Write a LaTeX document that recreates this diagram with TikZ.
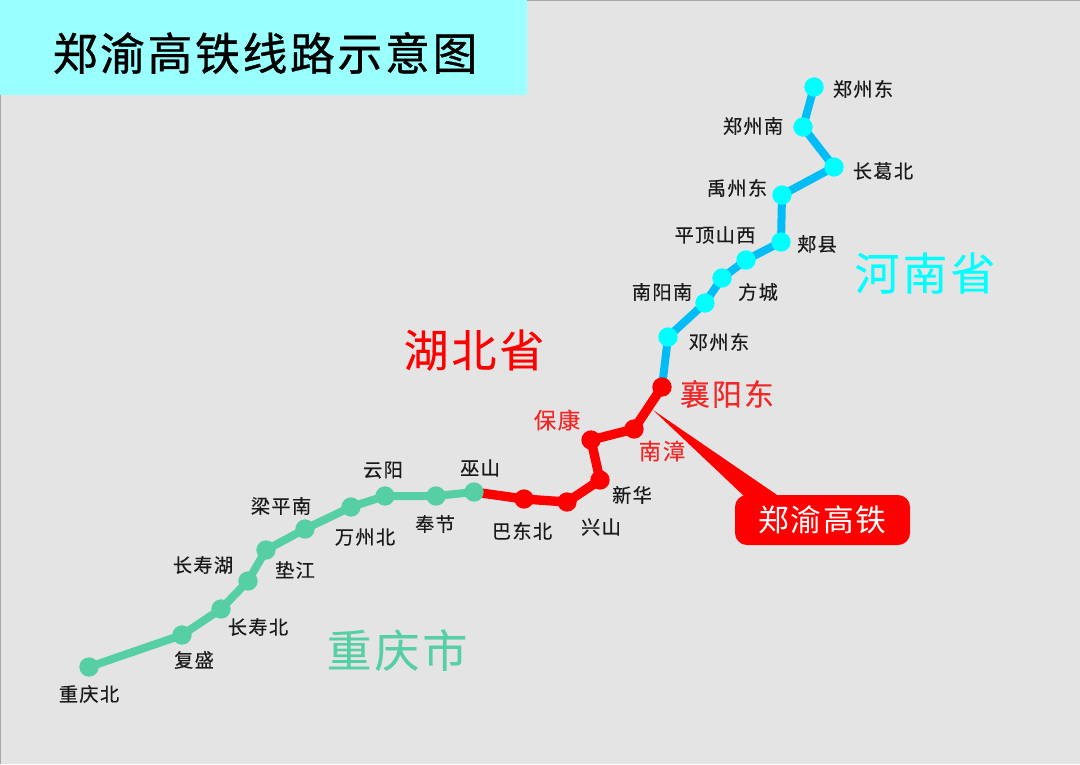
\documentclass[tikz,border=0pt]{standalone}
\usepackage{fontspec}
\usetikzlibrary{backgrounds}
\newfontfamily\cjk[LetterSpace=6]{Noto Sans CJK SC}
\newfontfamily\cjkm[LetterSpace=7,FakeBold=0.25]{Noto Sans CJK SC}
\newfontfamily\cjkb[LetterSpace=6,FakeBold=0.8]{Noto Sans CJK SC}
\definecolor{bgc}{HTML}{E4E4E4}
\definecolor{titlec}{HTML}{99FFFF}
\definecolor{bluel}{HTML}{00BEF5}
\definecolor{cyand}{HTML}{00FFFF}
\definecolor{redc}{HTML}{FF0000}
\definecolor{greenc}{HTML}{55CFA3}
\definecolor{labred}{HTML}{F02828}
\definecolor{labk}{HTML}{1A1A1A}
\tikzset{
  x=0.75pt,y=-0.75pt,
  stn/.style={circle,draw=none,minimum size=14.5pt,inner sep=0pt},
  cdot/.style={stn,fill=cyand},
  rdot/.style={stn,fill=redc},
  gdot/.style={stn,fill=greenc},
  bline/.style={draw=bluel,line width=6pt},
  rline/.style={draw=redc,line width=7pt,line join=round},
  gline/.style={draw=greenc,line width=6pt},
  lab/.style={inner sep=0pt,text=labk,font=\cjkm\fontsize{14.4pt}{16pt}\selectfont},
  rlab/.style={inner sep=0pt,text=labred,font=\cjkm\fontsize{16.8pt}{18pt}\selectfont},
  prov/.style={inner sep=0pt,font=\cjkm\fontsize{33.6pt}{36pt}\selectfont},
}
\begin{document}
\begin{tikzpicture}
\useasboundingbox (0,0) rectangle (1080,764);

% stations
\node[cdot] (s1) at (814,87) {};
\node[cdot] (s2) at (803,127) {};
\node[cdot] (s3) at (834,167) {};
\node[cdot] (s4) at (782,195) {};
\node[cdot] (s5) at (781,242) {};
\node[cdot] (s6) at (746,260) {};
\node[cdot] (s7) at (722,278) {};
\node[cdot] (s8) at (705,303) {};
\node[cdot] (s9) at (668,337) {};
\node[rdot] (s10) at (662,387) {};
\node[rdot] (s11) at (634,429) {};
\node[rdot] (s12) at (591,440) {};
\node[rdot] (s13) at (600,480) {};
\node[rdot] (s14) at (567,502) {};
\node[rdot] (s15) at (524,499) {};
\node[gdot] (s16) at (474,492) {};
\node[gdot] (s17) at (436,496) {};
\node[gdot] (s18) at (385,496) {};
\node[gdot] (s19) at (351,507) {};
\node[gdot] (s20) at (305,529) {};
\node[gdot] (s21) at (266,550) {};
\node[gdot] (s22) at (248,581) {};
\node[gdot] (s23) at (221,609) {};
\node[gdot] (s24) at (182,635) {};
\node[gdot] (s25) at (89,667) {};

% callout
\node[fill=redc,rounded corners=9pt,minimum width=131.25pt,minimum height=37.5pt,inner sep=0pt,text=white] (tag) at (822.5,520) {\cjk\fontsize{23pt}{26pt}\selectfont 郑渝高铁};
\coordinate (tip) at (653,410);
\coordinate (ta) at (745,497);
\coordinate (tb) at (780,497);

\begin{scope}[on background layer]
\fill[bgc] (0,0) rectangle (1080,764);
\draw[gray!70,line width=1pt] (0,764) -- (0,0) -- (1080,0);
\fill[titlec] (0,0) rectangle (527,95);
\fill[redc] (tip) -- (ta) -- (tb) -- cycle;
\draw[bline] (s1.center) -- (s2.center) -- (s3.center) -- (s4.center) -- (s5.center) -- (s6.center) -- (s7.center) -- (s8.center) -- (s9.center) -- (s10.center);
\draw[rline] (s10.center) -- (s11.center) -- (s12.center) -- (s13.center) -- (s14.center) -- (s15.center) -- (s16.center);
\draw[gline,line join=round] (s16.center) -- (s17.center) -- (s18.center) -- (s19.center) -- (s20.center) -- (s21.center) -- (s22.center) -- (s23.center) -- (s24.center) -- (s25.center);
\end{scope}

\node[inner sep=0pt,text=black] (title) at (265,53) {\cjkb\fontsize{33.6pt}{38pt}\selectfont 郑渝高铁线路示意图};

% labels
\node[lab] (l1) at (863,89) {郑州东};
\node[lab] (l2) at (753,126) {郑州南};
\node[lab] (l3) at (883,171) {长葛北};
\node[lab] (l4) at (737,188) {禹州东};
\node[lab] (l5) at (817,244) {郏县};
\node[lab] (l6) at (715,235) {平顶山西};
\node[lab] (l7) at (758,292) {方城};
\node[lab] (l8) at (662,292) {南阳南};
\node[lab] (l9) at (719,342) {邓州东};
\node[inner sep=0pt,text=labred,font=\cjkm\fontsize{22.4pt}{24pt}\selectfont] (l10) at (727,394) {襄阳东};
\node[rlab] (l11) at (662,451) {南漳};
\node[rlab] (l12) at (557,420) {保康};
\node[lab] (l13) at (632,495) {新华};
\node[lab] (l14) at (601,527) {兴山};
\node[lab] (l15) at (522,531) {巴东北};
\node[lab] (l16) at (480,468) {巫山};
\node[lab] (l17) at (435,524) {奉节};
\node[lab] (l18) at (383,470) {云阳};
\node[lab] (l19) at (365,537) {万州北};
\node[lab] (l20) at (281,506) {梁平南};
\node[lab] (l21) at (295,570) {垫江};
\node[lab] (l22) at (203,565) {长寿湖};
\node[lab] (l23) at (258,627) {长寿北};
\node[lab] (l24) at (194,660) {复盛};
\node[lab] (l25) at (89,694) {重庆北};

\node[prov,text=cyand] (p1) at (925,273) {河南省};
\node[prov,text=redc] (p2) at (474,350) {湖北省};
\node[prov,text=greenc] (p3) at (397,650) {重庆市};
\end{tikzpicture}
\end{document}
